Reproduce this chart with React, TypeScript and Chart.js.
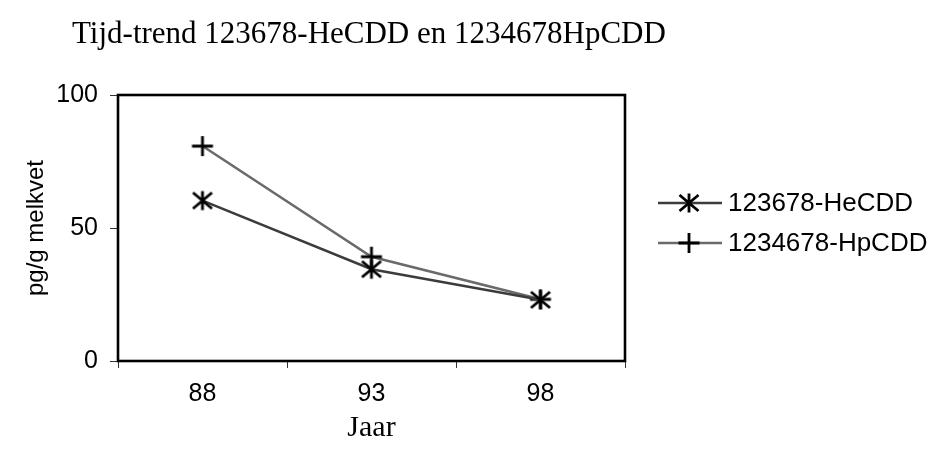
import React, { useEffect, useRef } from "react";
import { Chart, registerables } from "chart.js";

Chart.register(...registerables);

const categories = ["88", "93", "98"];
const heCDD = [60.3, 34.5, 23.0];
const hpCDD = [80.8, 39.2, 23.2];
const seriesNames = ["123678-HeCDD", "1234678-HpCDD"];
const seriesColors = ["#3c3c3c", "#6a6a6a"];
const titleText = "Tijd-trend 123678-HeCDD en 1234678HpCDD";
const xTitle = "Jaar";
const yTitle = "pg/g melkvet";
const yMin = 0;
const yMax = 100;
const yStep = 50;

function makeMarker(kind: "star" | "cross"): HTMLCanvasElement {
  const c = document.createElement("canvas");
  c.width = 26;
  c.height = 26;
  const ctx = c.getContext("2d")!;
  ctx.strokeStyle = "#000";
  ctx.lineWidth = 2.8;
  ctx.lineCap = "butt";
  const cx = 13;
  const cy = 13;
  ctx.beginPath();
  if (kind === "star") {
    ctx.moveTo(cx - 9.5, cy - 8);
    ctx.lineTo(cx + 9.5, cy + 8);
    ctx.moveTo(cx - 9.5, cy + 8);
    ctx.lineTo(cx + 9.5, cy - 8);
    ctx.moveTo(cx, cy - 9.5);
    ctx.lineTo(cx, cy + 9.5);
  } else {
    ctx.moveTo(cx - 10.5, cy);
    ctx.lineTo(cx + 10.5, cy);
    ctx.moveTo(cx, cy - 10);
    ctx.lineTo(cx, cy + 10);
  }
  ctx.stroke();
  return c;
}

export default function App() {
  const ref = useRef<HTMLCanvasElement | null>(null);

  useEffect(() => {
    const canvas = ref.current;
    if (!canvas) return;
    const starImg = makeMarker("star");
    const crossImg = makeMarker("cross");
    const markers = [starImg, crossImg];

    const overlay = {
      id: "overlay",
      beforeDatasetsDraw(chart: any) {
        const { ctx, chartArea } = chart;
        ctx.save();
        ctx.strokeStyle = "#000";
        ctx.lineWidth = 2.6;
        ctx.strokeRect(chartArea.left, chartArea.top, chartArea.right - chartArea.left, chartArea.bottom - chartArea.top);
        ctx.restore();
      },
      afterDraw(chart: any) {
        const { ctx, chartArea } = chart;
        ctx.save();
        ctx.fillStyle = "#000";
        // title
        ctx.font = "31px 'Liberation Serif', 'Times New Roman', serif";
        ctx.textAlign = "left";
        ctx.textBaseline = "alphabetic";
        ctx.fillText(titleText, 72, 43);
        // x title
        ctx.font = "30px 'Liberation Serif', 'Times New Roman', serif";
        ctx.textAlign = "center";
        ctx.fillText(xTitle, (chartArea.left + chartArea.right) / 2, 436);
        // y title
        ctx.save();
        ctx.translate(36, (chartArea.top + chartArea.bottom) / 2);
        ctx.rotate(-Math.PI / 2);
        ctx.font = "24px 'Liberation Sans', Arial, sans-serif";
        ctx.textAlign = "center";
        ctx.textBaseline = "middle";
        ctx.fillText(yTitle, 0, 0);
        ctx.restore();
        // legend
        const rows = [203, 243];
        for (let i = 0; i < 2; i++) {
          const y = rows[i];
          ctx.strokeStyle = seriesColors[i];
          ctx.lineWidth = 2.5;
          ctx.beginPath();
          ctx.moveTo(658, y);
          ctx.lineTo(722, y);
          ctx.stroke();
          const m = markers[i];
          ctx.drawImage(m, 689 - m.width / 2, y - m.height / 2);
          ctx.fillStyle = "#000";
          ctx.font = "26px 'Liberation Sans', Arial, sans-serif";
          ctx.textAlign = "left";
          ctx.textBaseline = "middle";
          ctx.fillText(seriesNames[i], 728, y + 1);
        }
        ctx.restore();
      },
    };

    const chart = new Chart(canvas, {
      type: "line",
      data: {
        labels: categories,
        datasets: [
          {
            label: seriesNames[0],
            data: heCDD,
            borderColor: seriesColors[0],
            borderWidth: 2.5,
            pointStyle: starImg as any,
            tension: 0,
          },
          {
            label: seriesNames[1],
            data: hpCDD,
            borderColor: seriesColors[1],
            borderWidth: 2.5,
            pointStyle: crossImg as any,
            tension: 0,
          },
        ],
      },
      options: {
        animation: false,
        responsive: false,
        devicePixelRatio: 1,
        layout: { padding: { top: 95, right: 311, bottom: 0, left: 0 } },
        plugins: {
          legend: { display: false },
          title: { display: false },
          tooltip: { enabled: false },
        },
        scales: {
          x: {
            type: "category",
            offset: true,
            border: { display: false },
            grid: {
              offset: true,
              drawOnChartArea: false,
              drawTicks: true,
              tickLength: 7,
              color: "#333",
              lineWidth: 1,
            },
            ticks: {
              color: "#000",
              padding: 11,
              font: { family: "'Liberation Sans', Arial, sans-serif", size: 25 },
              maxRotation: 0,
            },
            afterFit(scale: any) {
              scale.height = 100;
            },
          },
          y: {
            min: yMin,
            max: yMax,
            border: { display: false },
            grid: {
              drawOnChartArea: false,
              drawTicks: true,
              tickLength: 8,
              color: "#333",
              lineWidth: 1,
            },
            ticks: {
              stepSize: yStep,
              color: "#000",
              padding: 12,
              font: { family: "'Liberation Sans', Arial, sans-serif", size: 25 },
            },
            afterFit(scale: any) {
              scale.width = 118;
            },
          },
        },
      },
      plugins: [overlay],
    });
    return () => chart.destroy();
  }, []);

  return (
    <div style={{ position: "absolute", left: 0, top: 0, width: 936, height: 461, background: "#fff" }}>
      <canvas ref={ref} width={936} height={461} style={{ display: "block" }} />
    </div>
  );
}
